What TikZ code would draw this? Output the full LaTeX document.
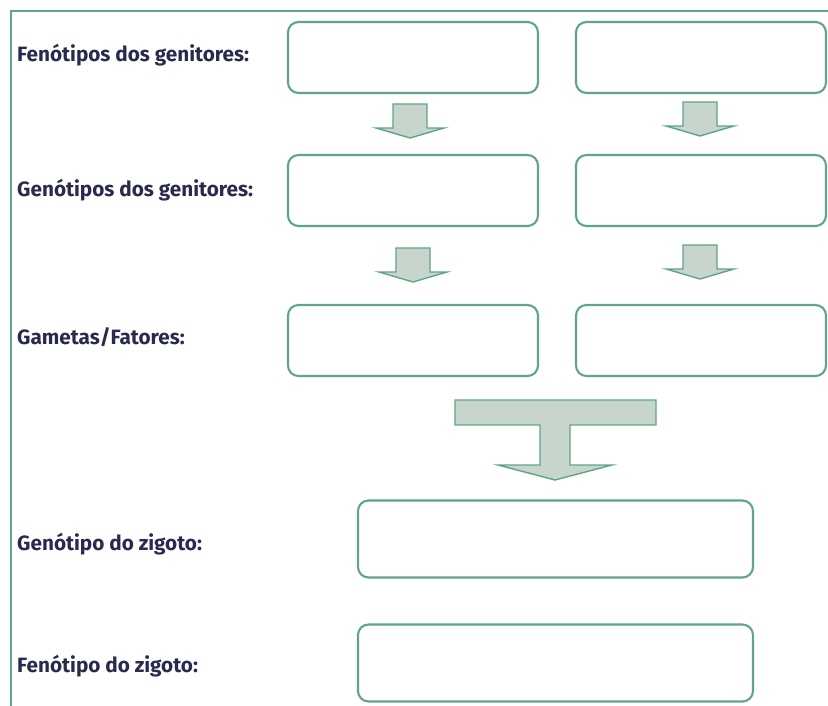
\documentclass[tikz,border=0pt]{standalone}
\usepackage{fontspec}
\setmainfont{Fira Sans}
\definecolor{framegreen}{RGB}{95,165,135}
\definecolor{arrowfill}{RGB}{200,213,204}
\definecolor{labelnavy}{RGB}{40,42,78}
\tikzset{
  answerbox/.style={draw=framegreen, line width=1.8pt, rounded corners=9pt, fill=white,
    minimum width=7.5cm, minimum height=2.13cm, inner sep=0pt},
  zygotebox/.style={answerbox, minimum width=11.85cm, minimum height=2.31cm},
  rowlabel/.style={anchor=west, text=labelnavy, font=\fontsize{17.7}{20}\selectfont\bfseries, inner sep=0pt},
  blockarrow/.style={draw=framegreen, line width=1.2pt, fill=arrowfill},
  smalldown/.pic={\draw[blockarrow] (-17,0) -- (17,0) -- (17,24) -- (34,24) -- (0,34) -- (-34,24) -- (-17,24) -- cycle;}
}
\begin{document}
\begin{tikzpicture}[x=0.03cm, y=-0.03cm]
    \useasboundingbox (0,0) rectangle (828,706);
    % Frame
    \draw[framegreen, line width=2pt] (11,706) -- (11,11) -- (828,11);

    % Labels
    \node[rowlabel] (lfen) at (17,55) {Fenótipos dos genitores:};
    \node[rowlabel] (lgen) at (17,190) {Genótipos dos genitores:};
    \node[rowlabel] (lgam) at (17,337) {Gametas/Fatores:};
    \node[rowlabel] (lgz) at (17,544) {Genótipo do zigoto:};
    \node[rowlabel] (lfz) at (17,666) {Fenótipo do zigoto:};

    % Parent boxes
    \node[answerbox] (fenA) at (413,57.5) {};
    \node[answerbox] (fenB) at (701,57.5) {};
    \node[answerbox] (genA) at (413,190.5) {};
    \node[answerbox] (genB) at (701,190.5) {};
    \node[answerbox] (gamA) at (413,340.5) {};
    \node[answerbox] (gamB) at (701,340.5) {};

    % Zygote boxes
    \node[zygotebox] (zgen) at (555.5,539) {};
    \node[zygotebox] (zfen) at (555.5,663) {};

    % Small arrows
    \pic at (410,104) {smalldown};
    \pic at (700,102) {smalldown};
    \pic at (413,248) {smalldown};
    \pic at (700,245) {smalldown};

    % Joining arrow
    \draw[blockarrow] (455,400) -- (656,400) -- (656,425) -- (570,425) -- (570,465)
      -- (612,465) -- (555,480) -- (498,465) -- (540,465) -- (540,425) -- (455,425) -- cycle;
\end{tikzpicture}
\end{document}
